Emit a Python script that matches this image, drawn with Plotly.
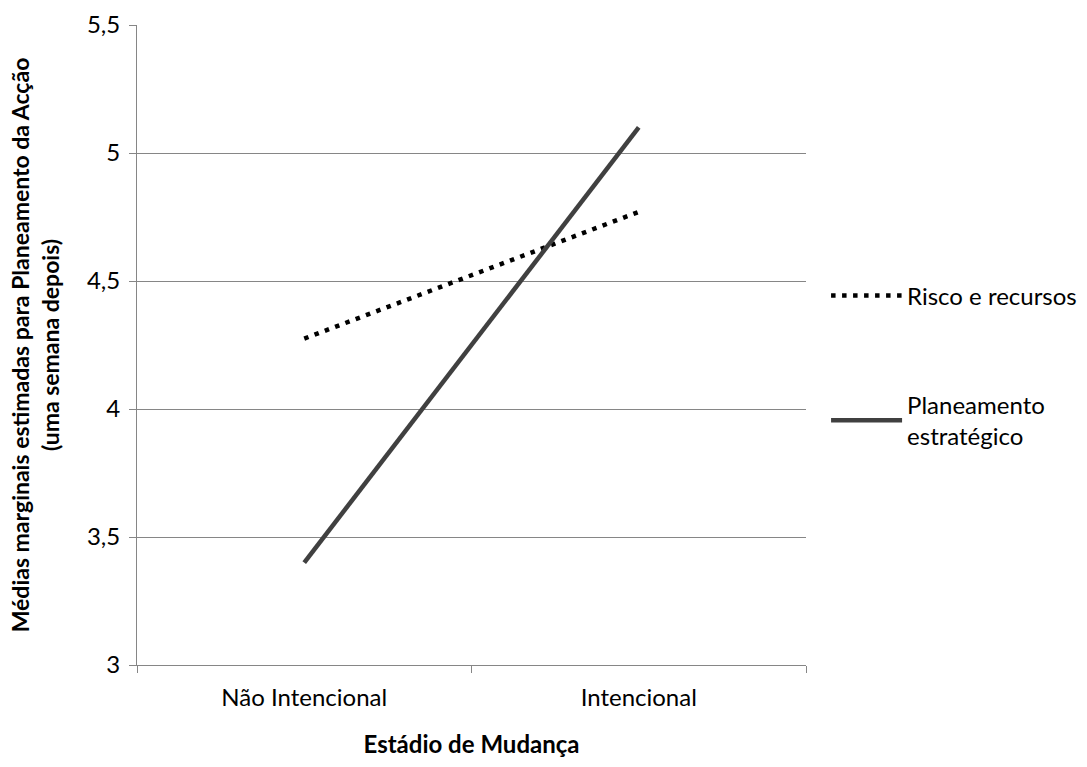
import plotly.graph_objects as go

# Estimated marginal means by stage of change
estadios = ["Não Intencional", "Intencional"]
risco_recursos = [4.275, 4.77]
planeamento_estrategico = [3.40, 5.10]

FONT = "Lato"
GRID = "#868686"

fig = go.Figure()
fig.add_trace(go.Scatter(
    x=estadios, y=risco_recursos, mode="lines",
    name="Risco e recursos", legendgroup="a",
    line=dict(color="#000000", width=4.5, dash="4.5px,6.5px"),
))
fig.add_trace(go.Scatter(
    x=estadios, y=planeamento_estrategico, mode="lines",
    name="Planeamento<br>estratégico", legendgroup="b",
    line=dict(color="#404040", width=4.5),
))

fig.update_layout(
    width=1087, height=767,
    margin=dict(l=137, r=281, t=25, b=102, autoexpand=False),
    paper_bgcolor="white", plot_bgcolor="white",
    separators=",.",
    font=dict(family=FONT, size=24, color="#000000"),
    showlegend=True,
    legend=dict(
        x=1.03, xanchor="left", y=0.612, yanchor="top",
        xref="paper", yref="paper",
        itemwidth=71, tracegroupgap=75,
        font=dict(family=FONT, size=24, color="#000000"),
        bgcolor="rgba(0,0,0,0)",
    ),
    xaxis=dict(
        type="category", range=[-0.5, 1.5], automargin=False,
        tickson="boundaries", ticks="outside", ticklen=7,
        tickcolor=GRID, showline=True, linecolor=GRID, linewidth=1,
        showgrid=False, zeroline=False,
        ticklabelstandoff=11,
        title=dict(text="<b>Estádio de Mudança</b>", standoff=26,
                   font=dict(family=FONT, size=24)),
        tickfont=dict(family=FONT, size=24),
    ),
    yaxis=dict(
        range=[3, 5.5], dtick=0.5, tick0=3, automargin=False,
        ticks="outside", ticklen=7, tickcolor=GRID,
        showline=True, linecolor=GRID, linewidth=1,
        showgrid=True, gridcolor=GRID, gridwidth=1, zeroline=False,
        ticklabelstandoff=4,
        title=dict(text="<b>Médias marginais estimadas para Planeamento da Acção<br>(uma semana depois)</b>",
                   standoff=20, font=dict(family=FONT, size=23)),
        tickfont=dict(family=FONT, size=24),
    ),
)

fig.write_html("out.html")
